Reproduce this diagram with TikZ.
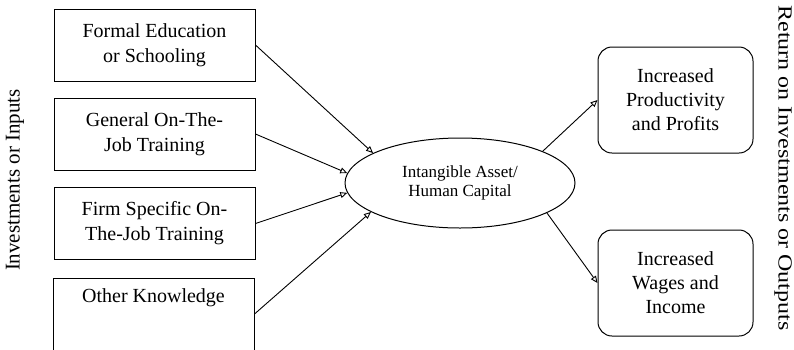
\documentclass[tikz,border=0pt]{standalone}
\usepackage{fontspec}
\setmainfont{Liberation Serif}
\usetikzlibrary{shapes.geometric,arrows.meta}
\tikzset{
  inbox/.style={draw, line width=1pt, minimum width=201pt, minimum height=72pt, align=center, inner sep=0pt,
    font=\fontsize{20}{25}\selectfont},
  outbox/.style={draw, line width=1pt, rounded corners=14pt, minimum width=155pt, minimum height=106pt, align=center, inner sep=0pt,
    font=\fontsize{20}{24}\selectfont},
  hub/.style={draw, ellipse, line width=1pt, minimum width=230pt, minimum height=90pt, align=center, inner sep=0pt,
    font=\fontsize{17}{19}\selectfont},
  side/.style={font=\fontsize{21}{25}\selectfont, inner sep=0pt},
  conn/.style={line width=0.9pt, -{Triangle[open,length=7pt,width=6pt]}}
}
\begin{document}
\begin{tikzpicture}[x=1pt,y=-1pt]
\useasboundingbox (0,0) rectangle (794,349);
\clip (0,0) rectangle (794,349);
\node[inbox] (b1) at (154.5,45) {Formal Education\\or Schooling};
\node[inbox] (b2) at (154.5,134) {General On-The-\\Job Training};
\node[inbox] (b3) at (154.5,223.5) {Firm Specific On-\\The-Job Training};
\node[inbox] (b4) at (153.5,314) {};
\node[font=\fontsize{20}{25}\selectfont, inner sep=0pt] (t4) at (153.5,298) {Other Knowledge};
\node[hub] (hc) at (460,183) {Intangible Asset/\\Human Capital};
\node[outbox] (o1) at (675.5,100) {Increased\\Productivity\\and Profits};
\node[outbox] (o2) at (675.5,283) {Increased\\Wages and\\Income};
\node[side, rotate=90] (li) at (15,180) {Investments or Inputs};
\node[side, rotate=-90, font=\fontsize{20}{24}\selectfont] (ri) at (783,168) {\scalebox{1.2}[1]{Return on Investments or Outputs}};
\draw[conn] (b1.east) -- (hc.161);
\draw[conn] (b2.east) -- (hc.175);
\draw[conn] (b3.east) -- (hc.185);
\draw[conn] (b4.east) -- (hc.198);
\draw[conn] (hc.21) -- (o1.west);
\draw[conn] (hc.-19) -- (o2.west);
\end{tikzpicture}
\end{document}
